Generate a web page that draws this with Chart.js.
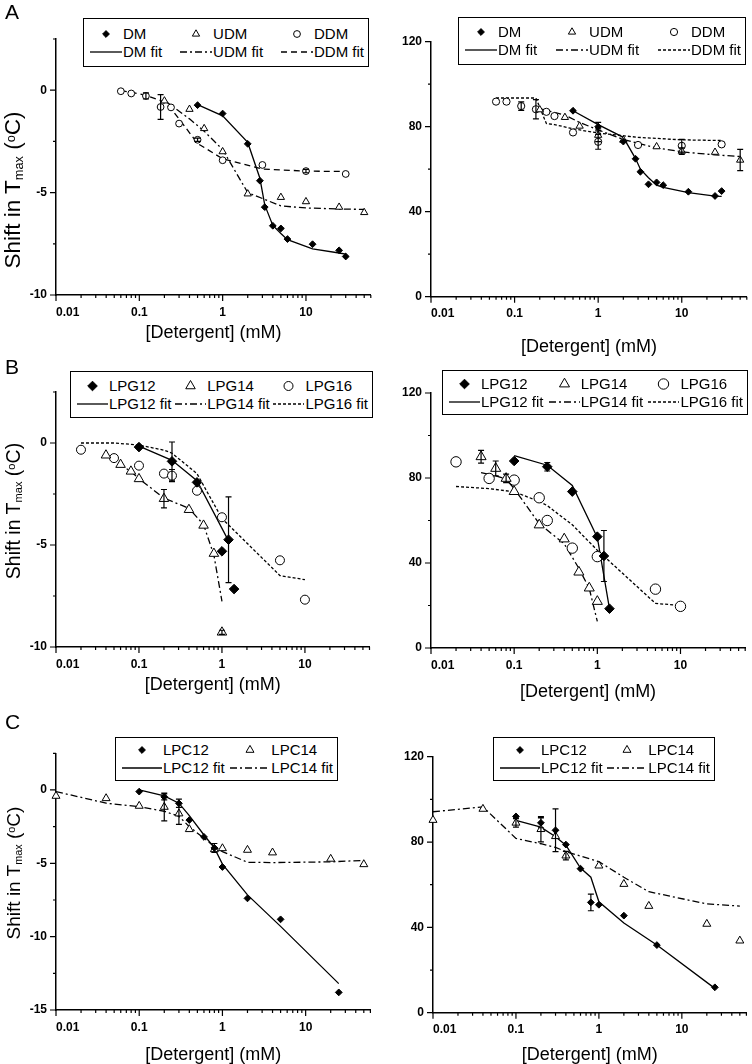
<!DOCTYPE html>
<html>
<head>
<meta charset="utf-8">
<script src="https://cdn.jsdelivr.net/npm/chart.js@4.4.1/dist/chart.umd.min.js"></script>
<style>
  html, body { margin: 0; padding: 0; background: #fff; overflow: hidden; }
  #fig { position: relative; width: 752px; height: 1064px; overflow: hidden; font-family: 'Liberation Sans', Arial, sans-serif; color: #000; }
  #fig canvas { position: absolute; }
  .letter { position: absolute; font-size: 21px; line-height: 1; }
  .ytitle { position: absolute; transform: translate(-50%, -50%) rotate(-90deg); white-space: nowrap; line-height: 1; }
  .ytitle sub { font-size: 0.57em; vertical-align: -0.2em; }
  .ytitle sup { font-size: 0.57em; vertical-align: 0.45em; }
  .legend { position: absolute; box-sizing: border-box; border: 1.5px solid #000; background: #fff; display: grid;
            justify-content: space-between; align-content: center; row-gap: 2px; padding: 0 4px 0 6px; font-size: 15px; z-index: 2; }
  .item { display: flex; align-items: center; white-space: nowrap; line-height: 16px; }
  .item svg { margin-right: 1px; }
</style>
</head>
<body>
<div id="fig"></div>
<script>
// x values are detergent concentration (mM)
// "Shift" = shift in Tmax (degC), "Remain" = right-hand panels (0-120 scale)

// A: maltosides
const dmX = [0.5, 1, 2, 2.8, 3.2, 4, 5, 6, 12, 25, 30];
const dmShift = [-0.73, -1.14, -2.62, -4.42, -5.71, -6.62, -6.75, -7.27, -7.52, -7.82, -8.12];
const dmShiftFit = [-0.7, -1.25, -2.55, -4.3, -5.6, -6.6, -7.0, -7.3, -7.75, -7.95, -8.0];
const dmRemain = [87.5, 80, 73, 64.9, 58.8, 52.9, 53.8, 52.5, 49.4, 47.4, 49.7];
const dmRemainErr = [0, 2, 0, 0, 0, 0, 0, 0, 0, 0, 0];
const dmRemainFit = [87.5, 81, 75, 65, 60, 56, 52.5, 51.5, 49, 47.3, 47.2];

const udmX = [0.2, 0.4, 0.6, 1, 2, 5, 10, 25, 50];
const udmShift = [-0.52, -0.93, -1.87, -3.0, -5.06, -5.23, -5.44, -5.71, -5.97];
const udmShiftFit = [-0.5, -1.4, -2.0, -2.9, -5.0, -5.65, -5.75, -5.8, -5.82];
const udmRemain = [88, 84.4, 80.3, 76, 73.7, 70.6, 68.5, 68, 64.3];
const udmRemainErr = [0, 0, 0, 3, 0, 0, 1.5, 0, 5];
const udmRemainFit = [88.5, 85.5, 82, 78.5, 74, 70, 68.2, 66.7, 66];

const ddmX = [0.06, 0.08, 0.12, 0.18, 0.24, 0.3, 0.5, 1, 3, 10, 30];
const ddmShift = [-0.05, -0.16, -0.28, -0.82, -0.84, -1.63, -2.42, -3.42, -3.65, -3.95, -4.09];
const ddmShiftErr = [0, 0, 0.15, 0.6, 0, 0, 0.08, 0, 0, 0.08, 0];
const ddmShiftFit = [-0.02, -0.1, -0.25, -0.5, -0.9, -1.4, -2.6, -3.35, -3.85, -3.95, -3.97];
const ddmRemain = [91.8, 91.8, 89.7, 88.2, 87, 85, 77.3, 72.9, 71.4, 71, 71.7];
const ddmRemainErr = [0, 0, 2, 4.5, 0, 0, 0, 3.5, 0, 3, 0];
const ddmRemainFit = [93.5, 93.5, 93.5, 93.5, 81.5, 81, 79, 77, 75, 73.8, 73.5];

// B: lyso-PG
const lpg12X = [0.1, 0.25, 0.5, 1, 1.2, 1.4];
const lpg12Shift = [-0.2, -0.9, -1.93, -5.31, -4.74, -7.16];
const lpg12ShiftErr = [0, 0.95, 0, 0, 2.1, 0];
const lpg12ShiftFitX = [0.1, 0.25, 0.5, 1.2];
const lpg12ShiftFit = [-0.15, -0.85, -1.85, -4.8];
const lpg12Remain = [88, 85.3, 73.6, 52.4, 43.3, 18.5];
const lpg12RemainErr = [0, 2, 0, 0, 12, 0];
const lpg12RemainFitX = [0.1, 0.25, 0.5, 1, 1.4];
const lpg12RemainFit = [90.5, 86, 76.5, 52, 18.5];

const lpg14X = [0.04, 0.06, 0.08, 0.1, 0.2, 0.4, 0.6, 0.8, 1];
const lpg14Shift = [-0.6, -1.06, -1.39, -1.76, -2.73, -3.27, -4.04, -5.42, -9.28];
const lpg14ShiftErr = [0, 0, 0, 0, 0.45, 0, 0, 0, 0.1];
const lpg14ShiftFit = [-0.57, -1.06, -1.4, -1.75, -2.7, -3.2, -4.0, -5.5, -7.76];
const lpg14Remain = [90, 84.5, 79.8, 73.6, 57.9, 51.3, 35.7, 28.2, 21.9];
const lpg14RemainErr = [3, 3.5, 2, 0, 0, 0, 0, 0, 0];
const lpg14RemainFit = [82.5, 81, 79.5, 75, 58.5, 49, 37.5, 28, 12.5];

const lpg16X = [0.02, 0.05, 0.1, 0.2, 0.25, 0.5, 1, 5, 10];
const lpg16Shift = [-0.33, -0.74, -1.11, -1.5, -1.6, -2.34, -3.64, -5.75, -7.68];
const lpg16ShiftErr = [0, 0, 0, 0, 0.3, 0, 0, 0, 0];
const lpg16ShiftFit = [0, 0, -0.1, -0.35, -0.5, -1.5, -3.7, -6.5, -6.7];
const lpg16Remain = [87.6, 79.8, 79, 70.7, 60, 47, 43, 27.7, 19.6];
const lpg16RemainFit = [76, 75, 73.5, 69, 67, 58, 46, 21, 20];

// C: lyso-PC
const lpc12X = [0.1, 0.2, 0.3, 0.4, 0.6, 0.8, 1, 2, 5, 25];
const lpc12Shift = [-0.11, -0.47, -0.91, -2.05, -3.2, -3.95, -5.25, -7.39, -8.82, -13.8];
const lpc12ShiftErr = [0, 0.2, 0.28, 0, 0, 0.3, 0, 0, 0, 0];
const lpc12ShiftFit = [0, -0.4, -0.9, -1.75, -3.07, -3.95, -5.05, -7.15, -9.3, -13.2];
const lpc12Remain = [92, 89, 85.5, 78.8, 67.5, 51.7, 50.6, 45.5, 31.7, 11.9];
const lpc12RemainErr = [0, 2.3, 10, 0, 0, 3.9, 0, 0, 0, 0];
const lpc12RemainFit = [90.2, 87, 82.5, 78.5, 67.8, 63.5, 52, 42, 31.7, 11.4];

const lpc14X = [0.01, 0.04, 0.1, 0.2, 0.3, 0.4, 0.8, 1, 2, 4, 20, 50];
const lpc14Shift = [-0.41, -0.57, -1.09, -1.16, -1.61, -2.68, -4.05, -3.98, -4.09, -4.27, -4.7, -5.07];
const lpc14ShiftErr = [0, 0, 0, 0.95, 0.74, 0, 0, 0, 0, 0, 0, 0];
const lpc14ShiftFit = [-0.11, -0.9, -1.14, -1.45, -1.8, -2.5, -3.85, -4.2, -4.93, -4.95, -4.9, -4.8];
const lpc14RemainX = [0.01, 0.04, 0.1, 0.2, 0.3, 0.4, 1, 2, 4, 20, 50];
const lpc14Remain = [90.3, 95.5, 89, 86, 82.7, 73.6, 68.9, 60.3, 50, 41.6, 33.75];
const lpc14RemainErr = [0, 0, 2, 5.9, 0, 2, 0, 0, 0, 0, 0];
const lpc14RemainFit = [94.2, 96.5, 81.7, 79.2, 77.5, 75.5, 70.8, 63.5, 56.7, 51, 50];

// axis ticks
const xTickLabels = [0.01, 0.1, 1, 10];
const shiftTicks = [-10, -5, 0];
const shiftTicksC = [-15, -10, -5, 0];
const remainTicks = [0, 40, 80, 120];

const X_MIN = 0.01, X_MAX = 60;
const SOLID = [], DASHDOT = [7, 3, 2, 3], DASHED = [6, 4], DOTTED = [3, 2];

Chart.defaults.font.family = "'Liberation Sans', Arial, sans-serif";
Chart.defaults.color = '#000';

const fig = document.getElementById('fig');

// error bars + axis tick marks (majors longer)
const extrasPlugin = {
  id: 'extras',
  afterDatasetsDraw(chart) {
    const { ctx } = chart;
    const xs = chart.scales.x, ys = chart.scales.y;
    ctx.save();
    ctx.strokeStyle = '#000';
    ctx.lineWidth = 1.2;
    ctx.beginPath();
    chart.data.datasets.forEach(ds => {
      ds.data.forEach(p => {
        if (!p.err) return;
        const px = xs.getPixelForValue(p.x);
        const t = ys.getPixelForValue(p.y + p.err), b = ys.getPixelForValue(p.y - p.err);
        ctx.moveTo(px, t); ctx.lineTo(px, b);
        ctx.moveTo(px - 3, t); ctx.lineTo(px + 3, t);
        ctx.moveTo(px - 3, b); ctx.lineTo(px + 3, b);
      });
    });
    ctx.stroke();
    ctx.restore();
  },
  afterDraw(chart) {
    const { ctx } = chart;
    const xs = chart.scales.x, ys = chart.scales.y;
    ctx.save();
    ctx.strokeStyle = '#000';
    ctx.lineWidth = 1.2;
    ctx.beginPath();
    xs.ticks.forEach(t => {
      const px = xs.getPixelForValue(t.value);
      ctx.moveTo(px, xs.top); ctx.lineTo(px, xs.top + (t.label ? 6 : 3));
    });
    ys.ticks.forEach(t => {
      const py = ys.getPixelForValue(t.value);
      ctx.moveTo(ys.right, py); ctx.lineTo(ys.right - (t.label ? 6 : 3), py);
    });
    ctx.stroke();
    ctx.restore();
  }
};

function logTickValues() {
  const out = [];
  xTickLabels.forEach(d => {
    for (let k = 1; k <= 9; k++) {
      const v = +(k * d).toPrecision(6);
      if (v <= X_MAX) out.push(v);
    }
  });
  if (out[out.length - 1] < X_MAX) out.push(X_MAX);
  return out;
}

function linTickValues(majors, max) {
  const step = (majors[1] - majors[0]) / 2;
  const out = [];
  for (let v = majors[0]; v <= max + 1e-9; v += step) out.push(+v.toFixed(4));
  return out;
}

// invisible tick marks: they only push the labels away from the axis
const hiddenTicks = len => ({ drawOnChartArea: false, drawTicks: true, tickLength: len, tickColor: 'rgba(0,0,0,0)' });

function makeChart(p) {
  const cv = document.createElement('canvas');
  cv.width = p.w; cv.height = p.h;
  cv.style.left = p.left + 'px';
  cv.style.top = p.top + 'px';
  fig.appendChild(cv);

  const datasets = [];
  p.series.forEach(s => {
    datasets.push({
      label: s.label,
      data: s.x.map((v, i) => ({ x: v, y: s.y[i], err: s.err ? s.err[i] : 0 })),
      showLine: false,
      pointStyle: s.marker,
      pointRadius: s.r,
      pointBackgroundColor: s.filled ? '#000' : '#fff',
      pointBorderColor: '#000',
      pointBorderWidth: 1,
      clip: false,
      order: 0
    });
    const fx = s.fitX || s.x;
    datasets.push({
      label: s.label + ' fit',
      data: fx.map((v, i) => ({ x: v, y: s.fit[i] })),
      showLine: true,
      pointRadius: 0,
      borderColor: '#000',
      borderWidth: 1.3,
      borderDash: s.dash,
      fill: false,
      order: 1
    });
  });

  const yTicks = linTickValues(p.yMajor, p.yMax);

  new Chart(cv, {
    type: 'scatter',
    data: { datasets },
    options: {
      responsive: false,
      animation: false,
      events: [],
      layout: { padding: { top: p.plotT, right: p.w - p.plotR, left: 0, bottom: 0 } },
      plugins: { legend: { display: false }, tooltip: { enabled: false } },
      scales: {
        x: {
          type: 'logarithmic',
          min: X_MIN, max: X_MAX,
          afterBuildTicks: sc => { sc.ticks = logTickValues().map(v => ({ value: v })); },
          afterFit: sc => { sc.height = p.h - p.plotB; },
          grid: hiddenTicks(8),
          border: { color: '#000', width: 1.5 },
          ticks: {
            autoSkip: false, maxRotation: 0, align: 'inner', padding: 2,
            font: { size: 12, weight: 'bold' }, color: '#000',
            callback: v => { const l = xTickLabels.find(t => Math.abs(t - v) < t * 1e-6); return l === undefined ? '' : String(l); }
          },
          title: { display: true, text: '[Detergent] (mM)', font: { size: 18 }, color: '#000', padding: { top: 0, bottom: 2 } }
        },
        y: {
          type: 'linear',
          min: p.yMajor[0], max: p.yMax,
          afterBuildTicks: sc => { sc.ticks = yTicks.map(v => ({ value: v })); },
          afterFit: sc => { sc.width = p.plotL; },
          grid: hiddenTicks(6),
          border: { color: '#000', width: 1.5 },
          ticks: {
            autoSkip: false, padding: 3,
            font: { size: 12, weight: 'bold' }, color: '#000',
            callback: v => p.yMajor.includes(v) ? String(v) : ''
          }
        }
      }
    },
    plugins: [extrasPlugin]
  });
}

function sample(s, isFit, w) {
  const c = w / 2, cy = 8;
  if (isFit) {
    return `<svg width="${w}" height="16"><line x1="0" y1="${cy}" x2="${w}" y2="${cy}" stroke="#000" stroke-width="1.3" stroke-dasharray="${s.dash.join(' ') || 'none'}"/></svg>`;
  }
  const r = s.r, fill = s.filled ? '#000' : '#fff';
  let shape;
  if (s.marker === 'rectRot') {
    shape = `<polygon points="${c},${cy - r} ${c + r},${cy} ${c},${cy + r} ${c - r},${cy}" fill="${fill}" stroke="#000"/>`;
  } else if (s.marker === 'triangle') {
    const dx = r * Math.cos(Math.PI / 6);
    shape = `<polygon points="${c},${cy - r} ${c + dx},${cy + r / 2} ${c - dx},${cy + r / 2}" fill="${fill}" stroke="#000"/>`;
  } else {
    shape = `<circle cx="${c}" cy="${cy}" r="${r}" fill="${fill}" stroke="#000"/>`;
  }
  return `<svg width="${w}" height="16">${shape}</svg>`;
}

function makeLegend(p) {
  const L = p.legend;
  const box = document.createElement('div');
  box.className = 'legend';
  Object.assign(box.style, {
    left: (p.left + L.x) + 'px', top: (p.top + L.y) + 'px',
    width: L.w + 'px', height: L.h + 'px',
    gridTemplateColumns: `repeat(${p.series.length}, max-content)`
  });
  const row1 = p.series.map(s => `<div class="item">${sample(s, false, L.sw)}<span>${s.label}</span></div>`);
  const row2 = p.series.map(s => `<div class="item">${sample(s, true, L.sw)}<span>${s.label} fit</span></div>`);
  box.innerHTML = row1.concat(row2).join('');
  fig.appendChild(box);
}

function addText(cls, html, left, top, size) {
  const d = document.createElement('div');
  d.className = cls;
  d.innerHTML = html;
  d.style.left = left + 'px';
  d.style.top = top + 'px';
  if (size) d.style.fontSize = size + 'px';
  fig.appendChild(d);
}

const panels = [
  { left: 0, top: 0, w: 376, h: 346, plotL: 56, plotR: 373, plotT: 39, plotB: 295,
    yMajor: shiftTicks, yMax: 2.5, legend: { x: 83, y: 18, w: 286, h: 49, sw: 32 },
    series: [
      { label: 'DM', x: dmX, y: dmShift, fit: dmShiftFit, marker: 'rectRot', filled: true, r: 3.4, dash: SOLID },
      { label: 'UDM', x: udmX, y: udmShift, fit: udmShiftFit, marker: 'triangle', filled: false, r: 4.2, dash: DASHDOT },
      { label: 'DDM', x: ddmX, y: ddmShift, err: ddmShiftErr, fit: ddmShiftFit, marker: 'circle', filled: false, r: 3.4, dash: DASHED }
    ] },
  { left: 376, top: 0, w: 376, h: 360, plotL: 55, plotR: 373.5, plotT: 41.7, plotB: 296.7,
    yMajor: remainTicks, yMax: 120, legend: { x: 82, y: 17, w: 288, h: 48, sw: 32 },
    series: [
      { label: 'DM', x: dmX, y: dmRemain, err: dmRemainErr, fit: dmRemainFit, marker: 'rectRot', filled: true, r: 3.4, dash: SOLID },
      { label: 'UDM', x: udmX, y: udmRemain, err: udmRemainErr, fit: udmRemainFit, marker: 'triangle', filled: false, r: 4.2, dash: DASHDOT },
      { label: 'DDM', x: ddmX, y: ddmRemain, err: ddmRemainErr, fit: ddmRemainFit, marker: 'circle', filled: false, r: 3.6, dash: DOTTED }
    ] },
  { left: 0, top: 355, w: 376, h: 343, plotL: 56, plotR: 373, plotT: 37, plotB: 292,
    yMajor: shiftTicks, yMax: 2.5, legend: { x: 70, y: 16, w: 303, h: 47, sw: 31 },
    series: [
      { label: 'LPG12', x: lpg12X, y: lpg12Shift, err: lpg12ShiftErr, fitX: lpg12ShiftFitX, fit: lpg12ShiftFit, marker: 'rectRot', filled: true, r: 4.8, dash: SOLID },
      { label: 'LPG14', x: lpg14X, y: lpg14Shift, err: lpg14ShiftErr, fit: lpg14ShiftFit, marker: 'triangle', filled: false, r: 5.5, dash: DASHDOT },
      { label: 'LPG16', x: lpg16X, y: lpg16Shift, err: lpg16ShiftErr, fit: lpg16ShiftFit, marker: 'circle', filled: false, r: 4.5, dash: DOTTED }
    ] },
  { left: 376, top: 355, w: 376, h: 350, plotL: 55, plotR: 373.5, plotT: 38, plotB: 293,
    yMajor: remainTicks, yMax: 120, legend: { x: 66, y: 15, w: 306, h: 45, sw: 31 },
    series: [
      { label: 'LPG12', x: lpg12X, y: lpg12Remain, err: lpg12RemainErr, fitX: lpg12RemainFitX, fit: lpg12RemainFit, marker: 'rectRot', filled: true, r: 4.8, dash: SOLID },
      { label: 'LPG14', x: lpg14X, y: lpg14Remain, err: lpg14RemainErr, fit: lpg14RemainFit, marker: 'triangle', filled: false, r: 5.8, dash: DASHDOT },
      { label: 'LPG16', x: lpg16X, y: lpg16Remain, fit: lpg16RemainFit, marker: 'circle', filled: false, r: 5.2, dash: DOTTED }
    ] },
  { left: 0, top: 710, w: 376, h: 358, plotL: 56, plotR: 373, plotT: 43.3, plotB: 300,
    yMajor: shiftTicksC, yMax: 2.5, legend: { x: 115, y: 27, w: 223, h: 44, sw: 40 },
    series: [
      { label: 'LPC12', x: lpc12X, y: lpc12Shift, err: lpc12ShiftErr, fit: lpc12ShiftFit, marker: 'rectRot', filled: true, r: 3.4, dash: SOLID },
      { label: 'LPC14', x: lpc14X, y: lpc14Shift, err: lpc14ShiftErr, fit: lpc14ShiftFit, marker: 'triangle', filled: false, r: 4.6, dash: DASHDOT }
    ] },
  { left: 376, top: 710, w: 376, h: 358, plotL: 57, plotR: 375, plotT: 46.7, plotB: 302.7,
    yMajor: remainTicks, yMax: 120, legend: { x: 117, y: 27, w: 222, h: 44, sw: 40 },
    series: [
      { label: 'LPC12', x: lpc12X, y: lpc12Remain, err: lpc12RemainErr, fit: lpc12RemainFit, marker: 'rectRot', filled: true, r: 3.4, dash: SOLID },
      { label: 'LPC14', x: lpc14RemainX, y: lpc14Remain, err: lpc14RemainErr, fit: lpc14RemainFit, marker: 'triangle', filled: false, r: 4.6, dash: DASHDOT }
    ] }
];

panels.forEach(p => { makeChart(p); makeLegend(p); });

// panel letters and the y-axis title on the left column
const yTitle = 'Shift in T<sub>max</sub> (<sup>o</sup>C)';
[['A', 1, 190, 22.5], ['B', 356, 511, 19.5], ['C', 711, 873, 19]].forEach(([letter, top, mid, size]) => {
  addText('letter', letter, 5, top);
  addText('ytitle', yTitle, 14, mid, size);
});
</script>
</body>
</html>
